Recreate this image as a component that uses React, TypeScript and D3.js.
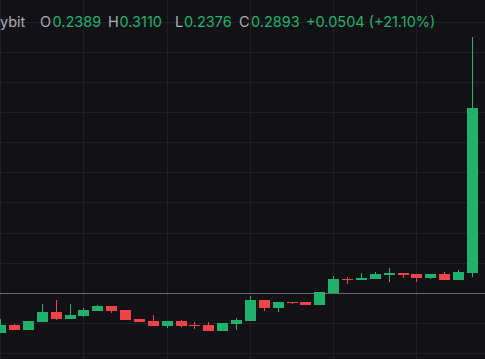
import React from "react";
import * as d3 from "d3";

const W = 485;
const H = 359;

// OHLC series, oldest first (last candle is the hovered one)
const opens = [0.2205, 0.2229, 0.2214, 0.2238, 0.2269, 0.2247, 0.2256, 0.2272, 0.2287, 0.2275, 0.2247, 0.2241, 0.2226, 0.2241, 0.2229, 0.2229, 0.2211, 0.2232, 0.2241, 0.2305, 0.2281, 0.2299, 0.2299, 0.2290, 0.2327, 0.2370, 0.2367, 0.2370, 0.2382, 0.2388, 0.2385, 0.2373, 0.2385, 0.2367, 0.2389];
const highs = [0.2247, 0.2232, 0.2241, 0.2293, 0.2305, 0.2293, 0.2281, 0.2290, 0.2287, 0.2275, 0.2247, 0.2260, 0.2241, 0.2244, 0.2238, 0.2238, 0.2235, 0.2250, 0.2318, 0.2305, 0.2299, 0.2299, 0.2299, 0.2330, 0.2379, 0.2376, 0.2388, 0.2391, 0.2403, 0.2388, 0.2385, 0.2385, 0.2391, 0.2397, 0.3110];
const lows = [0.2205, 0.2214, 0.2214, 0.2238, 0.2244, 0.2247, 0.2253, 0.2272, 0.2266, 0.2244, 0.2238, 0.2226, 0.2220, 0.2223, 0.2217, 0.2211, 0.2211, 0.2214, 0.2241, 0.2272, 0.2269, 0.2293, 0.2290, 0.2290, 0.2327, 0.2354, 0.2367, 0.2370, 0.2361, 0.2373, 0.2361, 0.2370, 0.2367, 0.2367, 0.2376];
const closes = [0.2229, 0.2214, 0.2241, 0.2269, 0.2247, 0.2260, 0.2275, 0.2287, 0.2272, 0.2244, 0.2238, 0.2226, 0.2241, 0.2226, 0.2226, 0.2211, 0.2235, 0.2244, 0.2305, 0.2281, 0.2299, 0.2296, 0.2290, 0.2330, 0.2370, 0.2367, 0.2373, 0.2385, 0.2388, 0.2382, 0.2373, 0.2385, 0.2367, 0.2391, 0.2893];

// price grid levels and vertical grid candle indices
const gridPrices = [0.2142, 0.2234, 0.2326, 0.2418, 0.2510, 0.2603, 0.2695, 0.2787, 0.2879, 0.2971, 0.3063, 0.3155];
const gridIndices = [0, 6, 12, 18, 24, 30];
const refPrice = 0.2326;

// header legend
const exchangeLabel = "ybit";
const legendKeys = ["O", "H", "L", "C"];
const legendValues = ["0.2389", "0.3110", "0.2376", "0.2893"];
const changeLabel = "+0.0504 (+21.10%)";

const BG = "#121116";
const GRID = "#211f26";
const UP = "#20b26c";
const DOWN = "#ef454a";
const TEXT = "#adadb3";

export default function App() {
  const x = d3.scaleLinear().domain([0, 34]).range([0.62, 472.5]);
  const y = d3.scaleLinear().domain([0.21249, 0.32235]).range([H, 0]);
  const idx = d3.range(opens.length);
  const bodyW = 11;

  const keyX = [40, 108, 175, 239];
  const valX = [52.5, 119.5, 184, 251];

  return (
    <svg
      width={W}
      height={H}
      style={{ position: "fixed", left: 0, top: 0, display: "block" }}
    >
      <rect x={0} y={0} width={W} height={H} fill={BG} />
      <g shapeRendering="crispEdges">
        {gridPrices.map((p, i) => (
          <rect key={"h" + i} x={0} y={Math.floor(y(p))} width={W} height={1} fill={GRID} />
        ))}
        {gridIndices.map((gi) => (
          <rect key={"v" + gi} x={Math.floor(x(gi))} y={0} width={1} height={H} fill={GRID} />
        ))}
        <rect x={0} y={Math.floor(y(refPrice))} width={W} height={1} fill="#66666c" />
        {idx.map((i) => {
          const o = opens[i];
          const c = closes[i];
          const up = c >= o;
          const col = up ? UP : DOWN;
          const cx = x(i);
          const top = Math.round(y(Math.max(o, c)));
          const bot = Math.round(y(Math.min(o, c)));
          const hTop = Math.round(y(highs[i]));
          const hBot = Math.round(y(lows[i]));
          return (
            <g key={i}>
              <rect x={Math.floor(cx)} y={hTop} width={1} height={Math.max(1, hBot - hTop)} fill={col} />
              <rect
                x={Math.round(cx - bodyW / 2)}
                y={top}
                width={bodyW}
                height={Math.max(1, bot - top)}
                fill={col}
              />
            </g>
          );
        })}
      </g>
      <g fontFamily="Inter, 'Noto Sans', sans-serif" fontSize={14.5}>
        <text x={0} y={26.5} fill={TEXT}>{exchangeLabel}</text>
        {legendKeys.map((k, i) => (
          <g key={k}>
            <text x={keyX[i]} y={26.5} fill={TEXT}>{k}</text>
            <text x={valX[i]} y={26.5} fill={UP}>{legendValues[i]}</text>
          </g>
        ))}
        <text x={306} y={26.5} fill={UP}>{changeLabel}</text>
      </g>
    </svg>
  );
}
